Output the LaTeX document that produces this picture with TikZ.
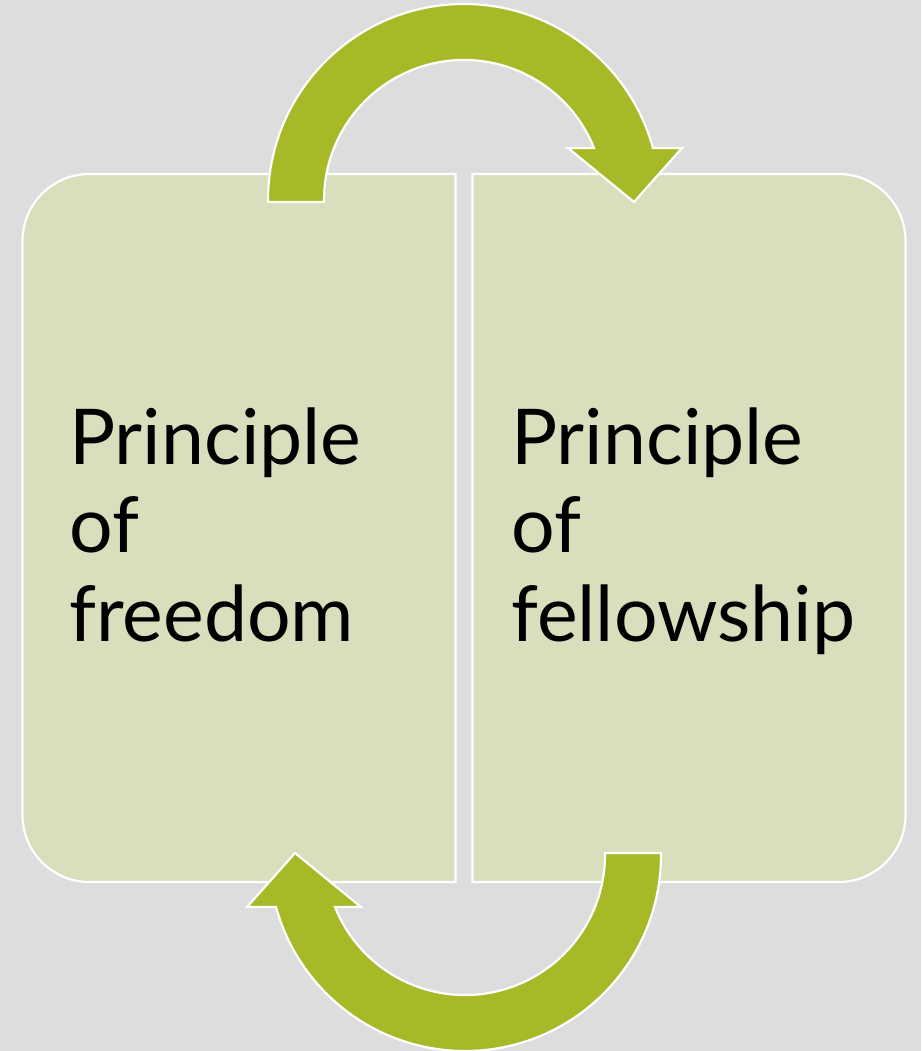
\documentclass[tikz,border=0pt]{standalone}
\usepackage{fontspec}
\setmainfont{Lato}
\definecolor{bg}{HTML}{DDDDDD}
\definecolor{boxfill}{HTML}{D9DFBD}
\definecolor{arrowgreen}{HTML}{A8B928}
\tikzset{
  boxshape/.style={fill=boxfill, draw=white, line width=2.2pt},
  arrowshape/.style={fill=arrowgreen, draw=white, line width=2.2pt, line join=miter},
  label/.style={anchor=base west, inner sep=0pt, align=left, text=black,
    font=\fontsize{77}{88.5}\selectfont}
}
\newcommand{\cyclearrow}{%
  (268,202) -- (268,200)
  arc[start angle=-180, end angle=-15.4, radius=196]
  -- (682,148) -- (634,202) -- (568,148) -- (594,148)
  arc[start angle=-21.8, end angle=-180, radius=140]
  -- (324,202) -- cycle}
\begin{document}
\begin{tikzpicture}[x=1pt, y=-1pt]
\fill[bg] (0,0) rectangle (921,1051);
\useasboundingbox (0,0) rectangle (921,1051);
% left box
\draw[boxshape] (455.5,174) -- (89.5,174)
  arc[start angle=-90, end angle=-180, radius=67]
  -- (22.5,815)
  arc[start angle=-180, end angle=-270, radius=67]
  -- (455.5,882) -- cycle;
% right box
\draw[boxshape] (472.5,174) -- (838.5,174)
  arc[start angle=-90, end angle=0, radius=67]
  -- (905.5,815)
  arc[start angle=0, end angle=90, radius=67]
  -- (472.5,882) -- cycle;
% arrows
\draw[arrowshape] \cyclearrow;
\begin{scope}[rotate around={180:(464.5,527.5)}]
\draw[arrowshape] \cyclearrow;
\end{scope}
% texts (anchor at baseline of last line)
\node[label] (freedom) at (69,641) {Principle\\of\\freedom};
\node[label] (fellowship) at (511,641) {Principle\\of\\fellowship};
\end{tikzpicture}
\end{document}
